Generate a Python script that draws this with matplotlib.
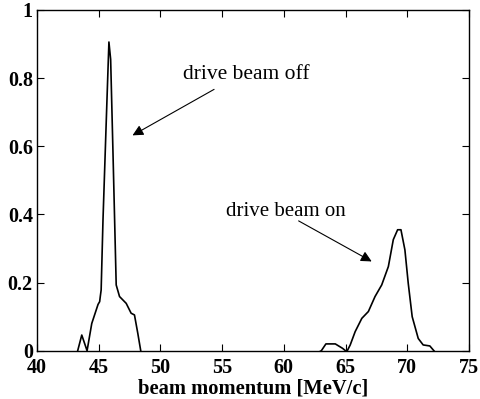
import numpy as np
import matplotlib.pyplot as plt

plt.rcParams['font.family'] = ['Liberation Serif', 'DejaVu Serif']

# drive beam off
x_off = [43.25, 43.63, 44.06, 44.44, 44.95, 45.08, 45.13, 45.2, 45.35, 45.62, 45.83,
         45.97, 46.16, 46.42, 46.69, 47.23, 47.63, 47.9, 48.17, 48.44]
y_off = [-0.007, 0.046, 0.0, 0.08, 0.136, 0.144, 0.159, 0.178, 0.384, 0.68, 0.906,
         0.855, 0.58, 0.193, 0.159, 0.139, 0.11, 0.105, 0.051, -0.007]

# drive beam on
x_on = [62.64, 63.04, 63.41, 64.17, 64.76, 65.1, 65.38, 65.78, 66.32, 66.85, 67.39,
        67.93, 68.47, 68.87, 69.22, 69.49, 69.81, 70.08, 70.4, 70.89, 71.29, 71.83,
        72.23, 72.37]
y_on = [-0.008, 0.0, 0.02, 0.02, 0.007, -0.003, 0.017, 0.056, 0.095, 0.115, 0.159,
        0.193, 0.247, 0.326, 0.355, 0.355, 0.296, 0.198, 0.1, 0.036, 0.017, 0.014,
        -0.003, -0.008]

xticks = [40, 45, 50, 55, 60, 65, 70, 75]
yticks = [0, 0.2, 0.4, 0.6, 0.8, 1]
ytick_labels = ['0', '0.2', '0.4', '0.6', '0.8', '1']

fig = plt.figure(figsize=(4.8, 3.99), dpi=100)
ax = fig.add_axes([0.077, 0.121, 0.900, 0.854])

ax.plot(x_off, y_off, color='k', lw=1.2)
ax.plot(x_on, y_on, color='k', lw=1.2)

arrow = dict(arrowstyle='-|>', mutation_scale=16, lw=0.8, color='k', shrinkA=0, shrinkB=0)
ax.annotate('', xy=(47.74, 0.632), xytext=(54.35, 0.767), arrowprops=arrow)
ax.text(56.95, 0.81, 'drive beam off', fontsize=15.5, ha='center', va='center')
ax.annotate('', xy=(67.12, 0.262), xytext=(61.2, 0.381), arrowprops=arrow)
ax.text(60.15, 0.408, 'drive beam on', fontsize=15, ha='center', va='center')

ax.set_xlim(40, 75)
ax.set_ylim(0, 1)
ax.set_xticks(xticks)
ax.set_yticks(yticks)
ax.set_yticklabels(ytick_labels)
ax.tick_params(direction='in', top=True, right=True, length=5, width=0.8,
               labelsize=14.5, pad=3)
ax.tick_params(axis='x', pad=5.5)
for lab in ax.get_xticklabels() + ax.get_yticklabels():
    lab.set_fontweight('bold')
for s in ax.spines.values():
    s.set_linewidth(1.0)
ax.set_xlabel('beam momentum [MeV/c]', fontsize=14.8, fontweight='bold', labelpad=0)

fig.savefig('out.png', dpi=100)
